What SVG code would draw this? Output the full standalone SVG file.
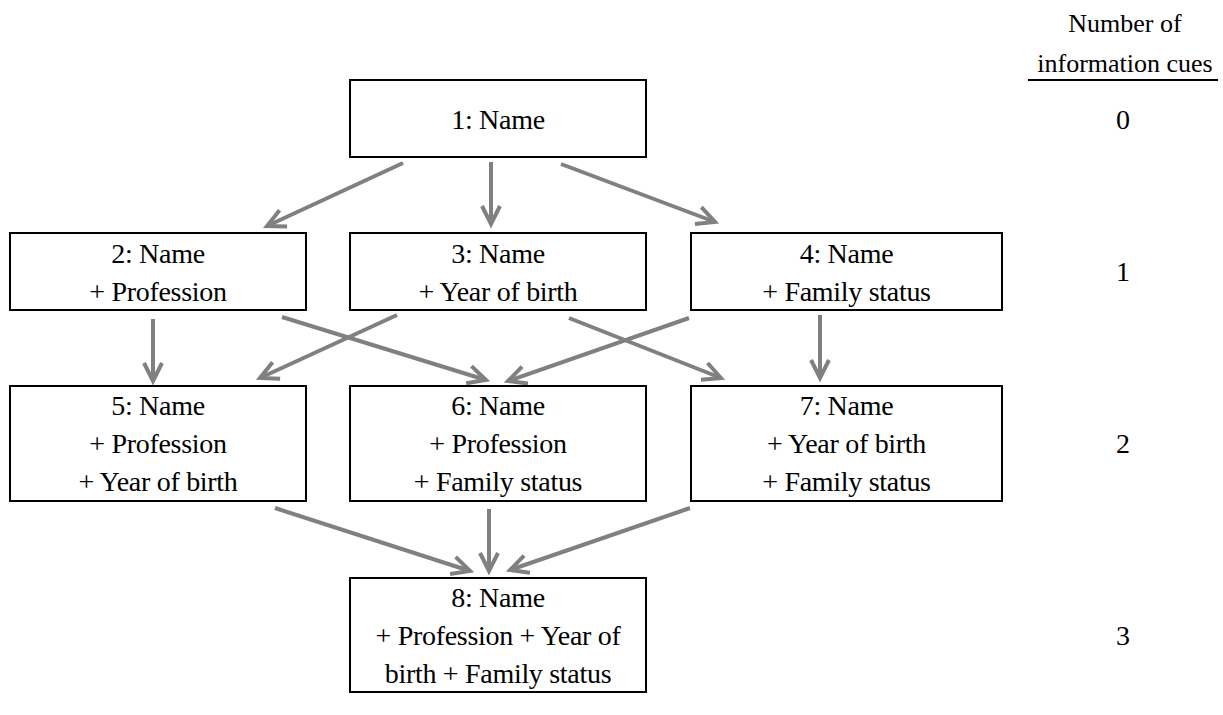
<svg xmlns="http://www.w3.org/2000/svg" width="1223" height="715" viewBox="0 0 1223 715">
<style>
.box{fill:#fff;stroke:#000;stroke-width:2}
.t{font-family:"Liberation Serif","Times New Roman",serif;font-size:28px;letter-spacing:-0.3px;fill:#000;text-anchor:middle}
.h{font-family:"Liberation Serif","Times New Roman",serif;font-size:26px;fill:#000;text-anchor:middle}
.n{font-family:"Liberation Serif","Times New Roman",serif;font-size:28px;fill:#000;text-anchor:middle}
.c{stroke:#808080;stroke-width:4;fill:none;marker-end:url(#ah)}
</style>
<defs>
<marker id="ah" markerUnits="userSpaceOnUse" orient="auto" refX="0" refY="0" viewBox="-24 -14 30 28" markerWidth="30" markerHeight="28" overflow="visible">
<path d="M-18,-9 L0,0 L-18,9" fill="none" stroke="#808080" stroke-width="4"/>
</marker>
</defs>
<rect width="1223" height="715" fill="#fff"/>
<g id="connectors">
<line class="c" x1="403" y1="163" x2="267" y2="226"/>
<line class="c" x1="491" y1="162" x2="491" y2="224"/>
<line class="c" x1="561" y1="164" x2="715" y2="222"/>
<line class="c" x1="153" y1="319" x2="153" y2="381"/>
<line class="c" x1="282" y1="317" x2="486" y2="380"/>
<line class="c" x1="397" y1="315" x2="260" y2="378"/>
<line class="c" x1="569" y1="318" x2="721" y2="378"/>
<line class="c" x1="689" y1="318" x2="508" y2="381"/>
<line class="c" x1="820" y1="315" x2="820" y2="378"/>
<line class="c" x1="275" y1="508" x2="470" y2="571"/>
<line class="c" x1="489" y1="509" x2="489" y2="571"/>
<line class="c" x1="690" y1="508" x2="510" y2="570"/>
</g>
<g id="node1"><rect class="box" x="350" y="80" width="296" height="77"/><text class="t" x="498" y="129">1: Name</text></g>
<g id="node2"><rect class="box" x="10" y="233" width="296" height="77"/><text class="t" x="158" y="263">2: Name</text><text class="t" x="158" y="301">+ Profession</text></g>
<g id="node3"><rect class="box" x="350" y="233" width="296" height="77"/><text class="t" x="498" y="263">3: Name</text><text class="t" x="498" y="301">+ Year of birth</text></g>
<g id="node4"><rect class="box" x="691" y="233" width="311" height="77"/><text class="t" x="846.5" y="263">4: Name</text><text class="t" x="846.5" y="301">+ Family status</text></g>
<g id="node5"><rect class="box" x="10" y="386" width="296" height="115"/><text class="t" x="158" y="415">5: Name</text><text class="t" x="158" y="453">+ Profession</text><text class="t" x="158" y="491">+ Year of birth</text></g>
<g id="node6"><rect class="box" x="350" y="386" width="296" height="115"/><text class="t" x="498" y="415">6: Name</text><text class="t" x="498" y="453">+ Profession</text><text class="t" x="498" y="491">+ Family status</text></g>
<g id="node7"><rect class="box" x="691" y="386" width="311" height="115"/><text class="t" x="846.5" y="415">7: Name</text><text class="t" x="846.5" y="453">+ Year of birth</text><text class="t" x="846.5" y="491">+ Family status</text></g>
<g id="node8"><rect class="box" x="350" y="578" width="296" height="114"/><text class="t" x="498" y="607">8: Name</text><text class="t" x="498" y="645">+ Profession + Year of</text><text class="t" x="498" y="683">birth + Family status</text></g>
<g id="legend">
<text class="h" x="1125" y="32">Number of</text>
<text class="h" x="1125" y="72">information cues</text>
<line x1="1028" y1="80" x2="1218" y2="80" stroke="#000" stroke-width="2"/>
<text class="n" x="1123" y="129">0</text>
<text class="n" x="1123" y="281">1</text>
<text class="n" x="1123" y="453">2</text>
<text class="n" x="1123" y="645">3</text>
</g>
</svg>
